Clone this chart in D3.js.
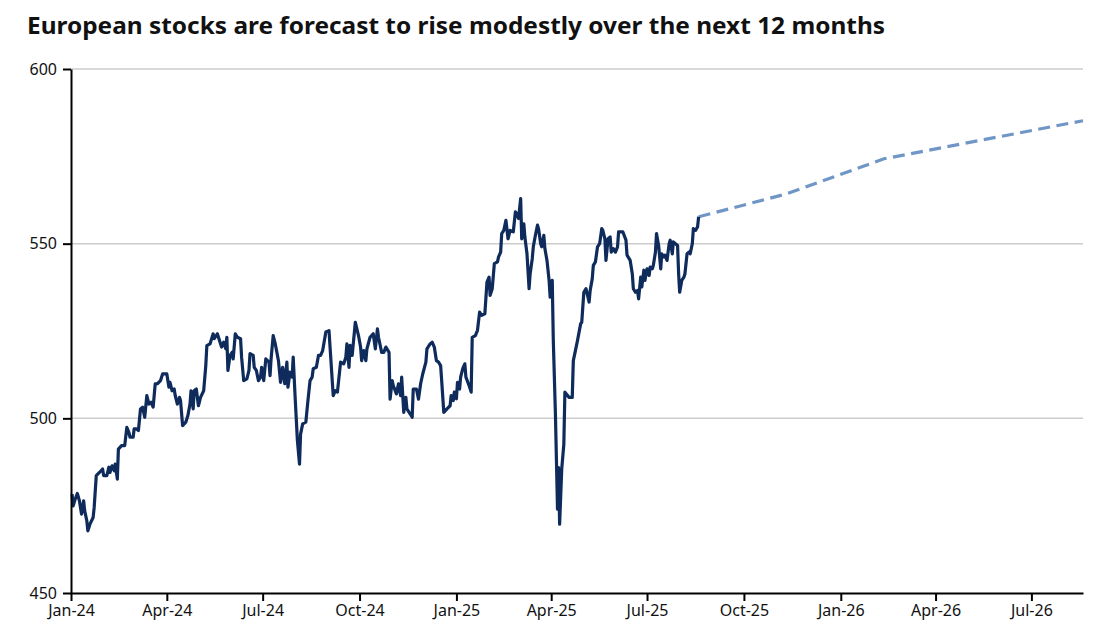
<!DOCTYPE html>
<meta charset="utf-8">
<head>
    <title>European stocks forecast</title>
    <script type="text/javascript" src="https://cdn.jsdelivr.net/npm/d3@7"></script>
    <style>
        body { margin: 0; background: #fff; }
        .axis text { font-family: "Noto Sans", sans-serif; font-size: 16px; fill: #111; }
        .axis path, .axis line { stroke: #000; stroke-width: 2px; }
        .grid line { stroke: #cccccc; stroke-width: 1.5px; }
        .title { font-family: "Noto Sans", sans-serif; font-weight: 700; font-size: 23.5px; fill: #111; }
    </style>
</head>
<body>
<div id="chart"></div>
<script>
    // STOXX 600 style index
    var histDates = [
        "2024-01-02","2024-01-03","2024-01-05","2024-01-07","2024-01-09","2024-01-11","2024-01-13","2024-01-14","2024-01-16","2024-01-17",
        "2024-01-19","2024-01-22","2024-01-23","2024-01-25","2024-01-28","2024-01-31","2024-02-01","2024-02-04","2024-02-06","2024-02-07",
        "2024-02-09","2024-02-11","2024-02-12","2024-02-14","2024-02-15","2024-02-18","2024-02-21","2024-02-23","2024-02-25","2024-02-26",
        "2024-02-29","2024-03-01","2024-03-03","2024-03-05","2024-03-07","2024-03-09","2024-03-11","2024-03-13","2024-03-15","2024-03-17",
        "2024-03-19","2024-03-21","2024-03-23","2024-03-26","2024-03-28","2024-04-01","2024-04-03","2024-04-04","2024-04-06","2024-04-08",
        "2024-04-09","2024-04-11","2024-04-13","2024-04-14","2024-04-16","2024-04-19","2024-04-21","2024-04-23","2024-04-24","2024-04-26",
        "2024-04-27","2024-04-29","2024-05-01","2024-05-03","2024-05-06","2024-05-08","2024-05-09","2024-05-12","2024-05-15","2024-05-16",
        "2024-05-19","2024-05-21","2024-05-23","2024-05-25","2024-05-27","2024-05-28","2024-05-29","2024-05-31","2024-06-02","2024-06-03",
        "2024-06-05","2024-06-07","2024-06-10","2024-06-11","2024-06-13","2024-06-16","2024-06-18","2024-06-19","2024-06-22","2024-06-23",
        "2024-06-25","2024-06-27","2024-06-29","2024-06-30","2024-07-02","2024-07-04","2024-07-07","2024-07-08","2024-07-09","2024-07-11",
        "2024-07-13","2024-07-16","2024-07-18","2024-07-20","2024-07-22","2024-07-24","2024-07-25","2024-07-27","2024-07-29","2024-07-30",
        "2024-08-01","2024-08-03","2024-08-05","2024-08-06","2024-08-08","2024-08-11","2024-08-13","2024-08-15","2024-08-17","2024-08-18",
        "2024-08-21","2024-08-23","2024-08-25","2024-08-27","2024-08-30","2024-09-02","2024-09-03","2024-09-06","2024-09-08","2024-09-10",
        "2024-09-13","2024-09-16","2024-09-18","2024-09-19","2024-09-21","2024-09-22","2024-09-24","2024-09-27","2024-09-30","2024-10-02",
        "2024-10-03","2024-10-05","2024-10-07","2024-10-08","2024-10-11","2024-10-14","2024-10-16","2024-10-18","2024-10-19","2024-10-22",
        "2024-10-24","2024-10-26","2024-10-29","2024-10-30","2024-11-01","2024-11-02","2024-11-05","2024-11-07","2024-11-09","2024-11-10",
        "2024-11-12","2024-11-14","2024-11-15","2024-11-18","2024-11-20","2024-11-21","2024-11-24","2024-11-26","2024-11-28","2024-11-30",
        "2024-12-03","2024-12-04","2024-12-07","2024-12-09","2024-12-11","2024-12-13","2024-12-15","2024-12-17","2024-12-18","2024-12-20",
        "2024-12-23","2024-12-26","2024-12-27","2024-12-29","2024-12-30","2025-01-01","2025-01-02","2025-01-04","2025-01-05","2025-01-07",
        "2025-01-09","2025-01-10","2025-01-13","2025-01-15","2025-01-16","2025-01-19","2025-01-21","2025-01-23","2025-01-25","2025-01-28",
        "2025-01-30","2025-02-01","2025-02-02","2025-02-04","2025-02-06","2025-02-09","2025-02-10","2025-02-12","2025-02-13","2025-02-15",
        "2025-02-17","2025-02-19","2025-02-21","2025-02-24","2025-02-26","2025-02-28","2025-03-01","2025-03-03","2025-03-04","2025-03-06",
        "2025-03-07","2025-03-09","2025-03-11","2025-03-12","2025-03-14","2025-03-15","2025-03-17","2025-03-19","2025-03-20","2025-03-22",
        "2025-03-23","2025-03-25","2025-03-26","2025-03-28","2025-03-30","2025-03-31","2025-04-02","2025-04-03","2025-04-05","2025-04-07",
        "2025-04-08","2025-04-09","2025-04-11","2025-04-13","2025-04-14","2025-04-18","2025-04-21","2025-04-22","2025-04-24","2025-04-26",
        "2025-04-29","2025-04-30","2025-05-02","2025-05-04","2025-05-07","2025-05-08","2025-05-10","2025-05-11","2025-05-13","2025-05-15",
        "2025-05-17","2025-05-19","2025-05-20","2025-05-22","2025-05-23","2025-05-25","2025-05-27","2025-05-28","2025-05-30","2025-06-01",
        "2025-06-03","2025-06-04","2025-06-08","2025-06-11","2025-06-12","2025-06-15","2025-06-17","2025-06-18","2025-06-20","2025-06-22",
        "2025-06-23","2025-06-25","2025-06-26","2025-06-28","2025-06-29","2025-07-01","2025-07-03","2025-07-04","2025-07-06","2025-07-07",
        "2025-07-09","2025-07-10","2025-07-12","2025-07-14","2025-07-15","2025-07-17","2025-07-18","2025-07-20","2025-07-22","2025-07-23",
        "2025-07-25","2025-07-26","2025-07-28","2025-07-30","2025-07-31","2025-08-01","2025-08-03","2025-08-05","2025-08-06","2025-08-08",
        "2025-08-10","2025-08-11","2025-08-13","2025-08-14","2025-08-16","2025-08-18","2025-08-19"
    ];
    var histValues = [
        478.3,474.9,476.9,478.5,476.4,472.6,476.4,473.5,470.7,467.8,
        469.7,471.6,474.5,483.6,484.5,485.5,483.6,483.6,486.0,484.5,
        486.4,485.0,486.9,482.6,491.2,492.2,492.2,497.4,496.0,494.6,
        494.6,497.0,497.0,496.5,502.7,503.2,500.3,506.5,504.1,504.6,
        503.2,509.9,509.9,510.8,512.7,512.7,508.9,510.3,507.9,508.4,
        506.5,504.1,506.0,505.1,497.9,498.9,500.8,504.1,507.9,502.7,
        507.9,508.4,503.6,506.0,507.9,515.1,520.8,521.3,524.2,522.8,
        524.2,522.3,520.4,521.8,519.9,523.2,513.7,518.0,518.9,517.0,
        524.2,523.2,522.8,517.5,510.8,511.3,513.7,518.5,518.0,514.6,
        513.7,510.8,511.8,514.6,510.8,517.0,516.1,512.2,517.0,523.7,
        521.3,516.5,510.3,514.6,509.9,516.1,508.9,513.2,511.8,517.5,
        505.1,493.6,486.9,495.5,498.4,498.9,505.1,510.8,511.8,514.2,
        514.6,518.0,518.0,519.4,524.7,525.1,520.4,506.5,507.9,507.5,
        516.1,515.6,517.5,521.3,514.6,520.9,518.0,527.5,523.7,520.4,
        516.5,519.4,516.5,519.9,523.2,524.2,519.9,525.6,523.2,518.9,
        518.9,520.4,518.9,505.5,510.8,509.4,507.0,509.9,506.5,511.8,
        501.7,506.0,502.7,501.3,500.3,508.4,508.4,505.5,509.9,512.7,
        516.1,519.9,521.3,521.8,520.4,516.5,516.1,515.1,510.8,501.7,
        502.7,503.6,506.5,505.1,507.5,505.6,510.3,508.4,511.8,514.2,
        515.6,511.8,509.4,507.5,523.2,523.7,525.2,530.4,529.5,529.9,
        539.0,540.4,535.2,537.1,544.3,544.8,546.2,547.6,552.9,553.8,
        556.7,551.4,553.8,553.4,559.1,558.1,557.2,562.9,551.4,555.7,
        551.9,547.1,537.1,541.4,545.7,549.1,552.4,555.3,554.3,550.0,
        549.1,552.4,548.6,545.2,539.5,534.7,539.5,522.3,501.3,474.0,
        485.9,469.7,485.5,492.6,507.5,506.0,506.0,516.5,519.4,522.3,
        527.1,527.5,536.1,537.1,533.3,536.6,540.0,543.8,544.8,549.1,
        550.0,554.3,553.8,551.4,545.2,551.4,551.9,547.6,548.6,547.6,
        549.1,553.4,553.4,551.0,546.7,545.2,541.4,537.1,536.1,536.6,
        534.2,540.4,537.6,542.4,539.5,542.8,540.9,543.3,542.8,543.8,
        547.6,552.9,549.5,542.8,547.1,546.2,546.7,545.2,550.0,551.0,
        547.1,550.5,550.0,549.5,541.4,536.1,539.5,540.4,541.4,547.1,
        547.6,547.1,550.0,554.3,553.8,554.8,557.7
    ];

    // 12-month forecast path
    var fcDates = ["2025-08-19", "2025-11-10", "2026-02-11", "2026-08-19"];
    var fcValues = [557.7, 564.2, 574.3, 585.2];

    var yTicks = [450, 500, 550, 600];
    var gridTicks = [500, 550, 600];
    var xStart = "2024-01-01";
    var xEnd = "2026-08-19";

    var titleText = "European stocks are forecast to rise modestly over the next 12 months";

    var width = 1109, height = 632;
    var margin = { top: 69, left: 71, bottom: 39, right: 26 };
    var innerW = width - margin.left - margin.right;
    var innerH = height - margin.top - margin.bottom;

    var parse = d3.timeParse("%Y-%m-%d");
    var hist = histDates.map(function(d, i) { return { date: parse(d), value: histValues[i] }; });
    var fc = fcDates.map(function(d, i) { return { date: parse(d), value: fcValues[i] }; });

    var svg = d3.select("#chart").append("svg")
        .attr("width", width)
        .attr("height", height);

    svg.append("text")
        .attr("class", "title")
        .attr("x", 27)
        .attr("y", 34)
        .attr("textLength", 858)
        .attr("lengthAdjust", "spacingAndGlyphs")
        .text(titleText);

    var g = svg.append("g").attr("transform", `translate(${margin.left}, ${margin.top})`);

    var x = d3.scaleTime().domain([parse(xStart), parse(xEnd)]).range([0, innerW]);
    var y = d3.scaleLinear().domain([450, 600]).range([innerH, 0]);

    // gridlines
    g.append("g").attr("class", "grid")
        .selectAll("line")
        .data(gridTicks)
        .enter().append("line")
        .attr("x1", 0).attr("x2", innerW)
        .attr("y1", function(d) { return y(d); })
        .attr("y2", function(d) { return y(d); });

    var line = d3.line()
        .x(function(d) { return x(d.date); })
        .y(function(d) { return y(d.value); });

    g.append("path")
        .datum(fc)
        .attr("fill", "none")
        .attr("stroke", "#7096c6")
        .attr("stroke-width", 3.2)
        .attr("stroke-dasharray", "12,6.5")
        .attr("d", line);

    g.append("path")
        .datum(hist)
        .attr("fill", "none")
        .attr("stroke", "#0e2b5c")
        .attr("stroke-width", 3.2)
        .attr("stroke-linejoin", "round")
        .attr("d", line);

    // axes
    g.append("g").attr("class", "axis")
        .attr("transform", `translate(0, ${innerH})`)
        .call(d3.axisBottom(x)
            .ticks(d3.timeMonth.every(3))
            .tickFormat(d3.timeFormat("%b-%y"))
            .tickSize(8)
            .tickSizeOuter(0)
            .tickPadding(4));

    g.append("g").attr("class", "axis")
        .call(d3.axisLeft(y)
            .tickValues(yTicks)
            .tickSize(8)
            .tickSizeOuter(0)
            .tickPadding(6));
</script>
</body>
</html>
